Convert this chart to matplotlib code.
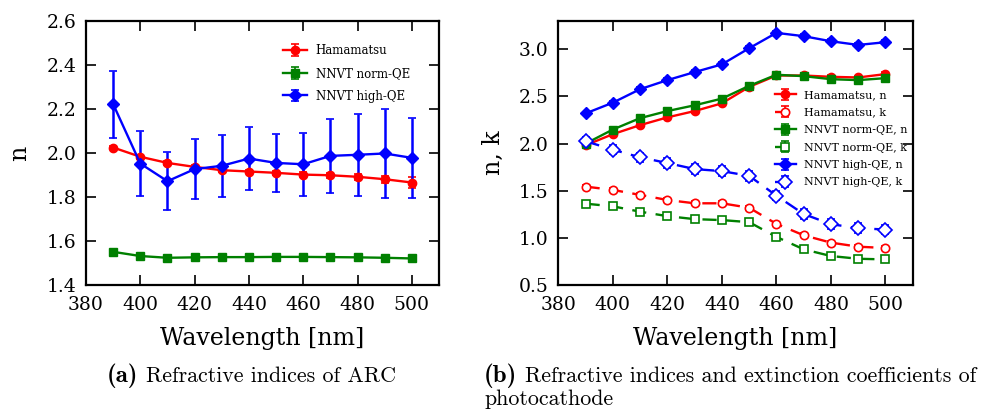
import matplotlib
matplotlib.use("Agg")
import matplotlib.pyplot as plt
import numpy as np

wl = [390, 400, 410, 420, 430, 440, 450, 460, 470, 480, 490, 500]

# (a) ARC refractive indices
arc_ham = [2.025, 1.983, 1.955, 1.937, 1.922, 1.916, 1.910, 1.902, 1.899, 1.892, 1.881, 1.866]
arc_ham_err = [0.008, 0.008, 0.008, 0.008, 0.008, 0.008, 0.010, 0.010, 0.012, 0.014, 0.016, 0.027]
arc_norm = [1.551, 1.532, 1.524, 1.526, 1.527, 1.527, 1.528, 1.528, 1.527, 1.526, 1.524, 1.521]
arc_norm_err = [0.006] * 12
arc_high = [2.222, 1.952, 1.872, 1.927, 1.942, 1.975, 1.955, 1.949, 1.987, 1.992, 1.998, 1.978]
arc_high_err = [0.152, 0.148, 0.131, 0.136, 0.140, 0.143, 0.133, 0.143, 0.169, 0.185, 0.202, 0.182]

# (b) photocathode n and k
ham_n = [1.982, 2.100, 2.196, 2.278, 2.345, 2.427, 2.601, 2.722, 2.722, 2.708, 2.701, 2.737]
ham_k = [1.544, 1.509, 1.456, 1.402, 1.367, 1.367, 1.320, 1.149, 1.028, 0.950, 0.907, 0.893]
norm_n = [2.000, 2.149, 2.270, 2.345, 2.406, 2.477, 2.612, 2.730, 2.715, 2.683, 2.673, 2.694]
norm_k = [1.363, 1.335, 1.278, 1.231, 1.199, 1.189, 1.167, 1.011, 0.879, 0.808, 0.779, 0.772]
high_n = [2.320, 2.434, 2.577, 2.673, 2.758, 2.840, 3.011, 3.174, 3.139, 3.085, 3.046, 3.075]
high_k = [2.025, 1.936, 1.854, 1.794, 1.730, 1.708, 1.658, 1.448, 1.253, 1.146, 1.103, 1.089]
n_err = [0.02] * 12
k_err = [0.02] * 12
high_k_err = [0.05] * 12

plt.rcParams['font.family'] = 'DejaVu Serif'
plt.rcParams['mathtext.fontset'] = 'cm'
plt.rcParams['xtick.direction'] = 'in'
plt.rcParams['ytick.direction'] = 'in'
plt.rcParams['xtick.top'] = True
plt.rcParams['ytick.right'] = True
plt.rcParams['xtick.major.size'] = 7
plt.rcParams['ytick.major.size'] = 7
plt.rcParams['xtick.major.width'] = 1.2
plt.rcParams['ytick.major.width'] = 1.2
plt.rcParams['xtick.major.pad'] = 8
plt.rcParams['ytick.major.pad'] = 7
plt.rcParams['axes.linewidth'] = 1.6

fig = plt.figure(figsize=(9.91, 4.09), dpi=100)
ax1 = fig.add_axes([0.0868, 0.303, 0.3562, 0.6457])
ax2 = fig.add_axes([0.5634, 0.303, 0.3576, 0.6457])

lw = 1.7
ax1.errorbar(wl, arc_ham, yerr=arc_ham_err, color='red', marker='o', ms=6, mec='red',
             lw=lw, capsize=3, capthick=1.2, elinewidth=1.2, label='Hamamatsu')
ax1.errorbar(wl, arc_norm, yerr=arc_norm_err, color='green', marker='s', ms=6, mec='green',
             lw=lw, capsize=3, capthick=1.2, elinewidth=1.2, label='NNVT norm-QE')
ax1.errorbar(wl, arc_high, yerr=arc_high_err, color='blue', marker='D', ms=6.5, mec='blue',
             lw=lw, capsize=3, capthick=1.2, elinewidth=1.8, label='NNVT high-QE')
ax1.set_xlim(380, 510)
ax1.set_ylim(1.4, 2.6)
ax1.set_xticks([380, 400, 420, 440, 460, 480, 500])
ax1.set_yticks([1.4, 1.6, 1.8, 2.0, 2.2, 2.4, 2.6])
ax1.set_yticklabels(['1.4', '1.6', '1.8', '2.0', '2.2', '2.4', '2.6'])
ax1.tick_params(labelsize=13.5)
ax1.set_xlabel('Wavelength [nm]', fontsize=17, labelpad=9)
ax1.set_ylabel('n', fontsize=17, labelpad=11)
ax1.legend(loc='upper left', bbox_to_anchor=(0.557, 0.913), frameon=False, fontsize=8.5,
           handlelength=2.1, handletextpad=0.7, labelspacing=0.83, borderpad=0, borderaxespad=0)

ax2.errorbar(wl, ham_n, yerr=n_err, color='red', marker='o', ms=6, mec='red',
             lw=lw, capsize=3, capthick=1.2, elinewidth=1.2, label='Hamamatsu, n')
ax2.errorbar(wl, ham_k, yerr=k_err, color='red', marker='o', ms=6, mec='red', mfc='white', mew=1.2,
             ls=(0, (6, 4)), lw=lw, capsize=3, capthick=1.2, elinewidth=1.2, label='Hamamatsu, k')
ax2.errorbar(wl, norm_n, yerr=n_err, color='green', marker='s', ms=6, mec='green',
             lw=lw, capsize=3, capthick=1.2, elinewidth=1.2, label='NNVT norm-QE, n')
ax2.errorbar(wl, norm_k, yerr=k_err, color='green', marker='s', ms=6, mec='green', mfc='white', mew=1.2,
             ls=(0, (6, 4)), lw=lw, capsize=3, capthick=1.2, elinewidth=1.2, label='NNVT norm-QE, k')
ax2.errorbar(wl, high_n, yerr=n_err, color='blue', marker='D', ms=6.5, mec='blue',
             lw=lw, capsize=3, capthick=1.2, elinewidth=1.2, label='NNVT high-QE, n')
ax2.errorbar(wl, high_k, yerr=high_k_err, color='blue', marker='D', ms=7, mec='blue', mfc='white', mew=1.2,
             ls=(0, (6, 4)), lw=lw, capsize=3, capthick=1.2, elinewidth=1.2, label='NNVT high-QE, k')
ax2.set_xlim(380, 510)
ax2.set_ylim(0.5, 3.3)
ax2.set_xticks([380, 400, 420, 440, 460, 480, 500])
ax2.set_yticks([0.5, 1.0, 1.5, 2.0, 2.5, 3.0])
ax2.tick_params(labelsize=13.5)
ax2.set_xlabel('Wavelength [nm]', fontsize=17, labelpad=9)
ax2.set_ylabel('n, k', fontsize=17, labelpad=10)
ax2.legend(loc='upper left', bbox_to_anchor=(0.611, 0.738), frameon=False, fontsize=8,
           handlelength=1.9, handletextpad=0.75, labelspacing=0.67, borderpad=0, borderaxespad=0)

# captions: bold label in cmb10 followed by text in cmr10
fs = 15.8
renderer = fig.canvas.get_renderer()
W = fig.get_figwidth() * fig.dpi

def caption(x0, y, label, text):
    t = fig.text(x0, y, label, ha='left', va='baseline', fontsize=18, family='cmb10')
    w = t.get_window_extent(renderer).width / W
    fig.text(x0 + w + 8.0 / W, y, text, ha='left', va='baseline', fontsize=fs, family='cmr10')

caption(0.108, 0.066, '(a)', 'Refractive indices of ARC')
caption(0.4885, 0.066, '(b)', 'Refractive indices and extinction coefficients of')
fig.text(0.4885, 0.010, 'photocathode', ha='left', va='baseline', fontsize=fs, family='cmr10')

fig.savefig('out.png', dpi=100)
